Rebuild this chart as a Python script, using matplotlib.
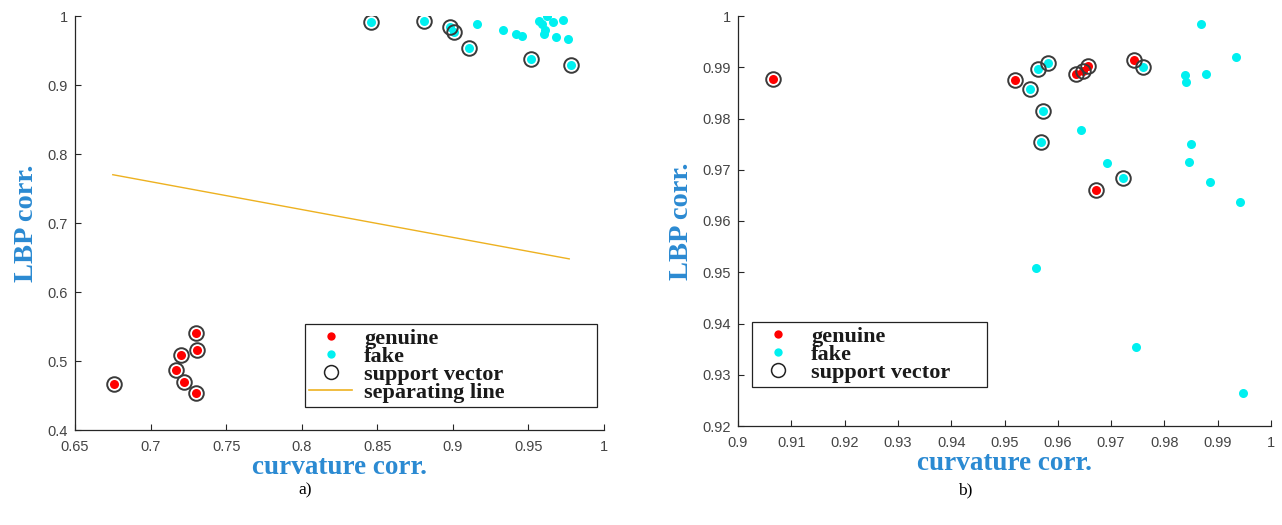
import matplotlib
matplotlib.use("Agg")
import matplotlib.pyplot as plt
from matplotlib.lines import Line2D
import numpy as np

# ---------------- data: panel a) ----------------
a_gen_x = [0.730, 0.731, 0.720, 0.717, 0.722, 0.730, 0.676]
a_gen_y = [0.541, 0.516, 0.508, 0.487, 0.469, 0.453, 0.467]
a_gen_sv = [1, 1, 1, 1, 1, 1, 1]

a_fake_x = [0.846, 0.881, 0.898, 0.901, 0.911, 0.952, 0.978,
            0.916, 0.933, 0.942, 0.946, 0.957, 0.959, 0.962, 0.966,
            0.973, 0.961, 0.960, 0.968, 0.976]
a_fake_y = [0.992, 0.993, 0.984, 0.977, 0.953, 0.938, 0.929,
            0.988, 0.980, 0.974, 0.971, 0.993, 0.989, 1.000, 0.991,
            0.994, 0.979, 0.974, 0.970, 0.966]
a_fake_sv = [1, 1, 1, 1, 1, 1, 1,
             0, 0, 0, 0, 0, 0, 0, 0, 0, 0, 0, 0, 0]

a_line_x = [0.675, 0.977]
a_line_y = [0.770, 0.648]

a_xticks = [0.65, 0.7, 0.75, 0.8, 0.85, 0.9, 0.95, 1.0]
a_xticklabels = ["0.65", "0.7", "0.75", "0.8", "0.85", "0.9", "0.95", "1"]
a_yticks = [0.4, 0.5, 0.6, 0.7, 0.8, 0.9, 1.0]
a_yticklabels = ["0.4", "0.5", "0.6", "0.7", "0.8", "0.9", "1"]

# ---------------- data: panel b) ----------------
b_gen_x = [0.9066, 0.9519, 0.9634, 0.9647, 0.9657, 0.9743, 0.9671]
b_gen_y = [0.9878, 0.9875, 0.9886, 0.9893, 0.9903, 0.9914, 0.9661]
b_gen_sv = [1, 1, 1, 1, 1, 1, 1]

b_fake_x = [0.9582, 0.9563, 0.9547, 0.9759, 0.9572, 0.9569, 0.9722,
            0.9869, 0.9935, 0.9839, 0.9841, 0.9878, 0.9644, 0.9849,
            0.9847, 0.9692, 0.9885, 0.9941, 0.9560, 0.9746, 0.9948]
b_fake_y = [0.9909, 0.9896, 0.9858, 0.9900, 0.9814, 0.9755, 0.9683,
            0.9985, 0.9920, 0.9884, 0.9871, 0.9887, 0.9777, 0.9751,
            0.9715, 0.9714, 0.9677, 0.9637, 0.9509, 0.9354, 0.9265]
b_fake_sv = [1, 1, 1, 1, 1, 1, 1,
             0, 0, 0, 0, 0, 0, 0, 0, 0, 0, 0, 0, 0, 0]

b_xticks = [0.9, 0.91, 0.92, 0.93, 0.94, 0.95, 0.96, 0.97, 0.98, 0.99, 1.0]
b_xticklabels = ["0.9", "0.91", "0.92", "0.93", "0.94", "0.95", "0.96",
                 "0.97", "0.98", "0.99", "1"]
b_yticks = [0.92, 0.93, 0.94, 0.95, 0.96, 0.97, 0.98, 0.99, 1.0]
b_yticklabels = ["0.92", "0.93", "0.94", "0.95", "0.96", "0.97", "0.98",
                 "0.99", "1"]

legend_labels = ["genuine", "fake", "support vector", "separating line"]
xlabel_text = "curvature corr."
ylabel_text = "LBP corr."
captions = ["a)", "b)"]

# ---------------- style ----------------
RED = "#ff0000"
CYAN = "#00f0f0"
SV_EDGE = "#3a3a3a"
LINE_C = "#edb120"
LABEL_C = "#2b8ad2"
TICK_C = "#444444"
SERIF = "Liberation Serif"
SANS = "Liberation Sans"

W, H = 1282, 525
fig = plt.figure(figsize=(W / 100, H / 100), dpi=100)


def px_axes(l, t, r, b):
    return fig.add_axes([l / W, 1 - b / H, (r - l) / W, (b - t) / H])


def style_axes(ax, xlim, ylim, xt, xtl, yt, ytl):
    ax.set_xlim(*xlim)
    ax.set_ylim(*ylim)
    ax.set_xticks(xt)
    ax.set_xticklabels(xtl)
    ax.set_yticks(yt)
    ax.set_yticklabels(ytl)
    for s in ["top", "right"]:
        ax.spines[s].set_visible(False)
    for s in ["bottom", "left"]:
        ax.spines[s].set_color("#262626")
        ax.spines[s].set_linewidth(0.9)
    ax.tick_params(direction="in", length=4, width=0.8, color="#262626",
                   labelcolor=TICK_C, labelsize=10.5)
    ax.tick_params(axis="x", pad=7)
    ax.tick_params(axis="y", pad=5)
    for lab in ax.get_xticklabels() + ax.get_yticklabels():
        lab.set_fontfamily(SANS)
    ax.set_xlabel(xlabel_text, fontfamily=SERIF, fontweight="bold",
                  fontsize=19.5, color=LABEL_C, labelpad=1)
    ax.set_ylabel(ylabel_text, fontfamily=SERIF, fontweight="bold",
                  fontsize=20.5, color=LABEL_C, labelpad=6)


def draw_points(ax, gx, gy, gsv, fx, fy, fsv):
    ax.plot(fx, fy, "o", color=CYAN, markersize=6.5, markeredgewidth=0,
            zorder=3)
    ax.plot(gx, gy, "o", color=RED, markersize=6.5, markeredgewidth=0,
            zorder=3)
    svx = [x for x, s in zip(gx, gsv) if s] + [x for x, s in zip(fx, fsv) if s]
    svy = [y for y, s in zip(gy, gsv) if s] + [y for y, s in zip(fy, fsv) if s]
    ax.plot(svx, svy, "o", markerfacecolor="none", markeredgecolor=SV_EDGE,
            markersize=10.5, markeredgewidth=1.4, zorder=4)


def make_legend(ax, with_line):
    handles = [
        Line2D([], [], ls="none", marker="o", color=RED, markersize=6,
               markeredgewidth=0),
        Line2D([], [], ls="none", marker="o", color=CYAN, markersize=6,
               markeredgewidth=0),
        Line2D([], [], ls="none", marker="o", markerfacecolor="none",
               markeredgecolor="#222222", markersize=10, markeredgewidth=1.1),
    ]
    labels = legend_labels[:3]
    if with_line:
        handles.append(Line2D([], [], color=LINE_C, lw=1.2))
        labels = legend_labels[:4]
    return handles, labels


def add_legend(ax, with_line, box_px, ax_px):
    l, t, r = box_px
    al, at, ar, ab = ax_px
    x0 = (l - al) / (ar - al)
    w = (r - l) / (ar - al)
    ytop = (ab - t) / (ab - at)
    h, lab = make_legend(ax, with_line)
    leg = ax.legend(h, lab, loc="upper left", mode="expand",
                    bbox_to_anchor=(x0, ytop - 0.3, w, 0.3),
                    prop={"family": SERIF, "weight": "bold", "size": 16},
                    frameon=True, fancybox=False, edgecolor="#222222",
                    framealpha=1, borderpad=0.2, labelspacing=-0.12,
                    handlelength=1.9, handletextpad=0.55, borderaxespad=0)
    leg.get_frame().set_linewidth(0.9)
    for t_ in leg.get_texts():
        t_.set_color("#1a1a1a")
    return leg


# ---------------- panel a) ----------------
A_PX = (75, 16, 604, 430)
ax1 = px_axes(*A_PX)
draw_points(ax1, a_gen_x, a_gen_y, a_gen_sv, a_fake_x, a_fake_y, a_fake_sv)
ax1.plot(a_line_x, a_line_y, color=LINE_C, lw=1.0, zorder=2)
style_axes(ax1, (0.65, 1.0), (0.4, 1.0), a_xticks, a_xticklabels,
           a_yticks, a_yticklabels)
add_legend(ax1, True, (305, 324, 597), A_PX)

# ---------------- panel b) ----------------
B_PX = (738, 16, 1271, 426)
ax2 = px_axes(*B_PX)
draw_points(ax2, b_gen_x, b_gen_y, b_gen_sv, b_fake_x, b_fake_y, b_fake_sv)
style_axes(ax2, (0.9, 1.0), (0.92, 1.0), b_xticks, b_xticklabels,
           b_yticks, b_yticklabels)
add_legend(ax2, False, (752, 322, 987), B_PX)

# captions
fig.text(305 / W, 1 - 490 / H, captions[0], ha="center", va="center",
         fontfamily=SERIF, fontsize=12.5, color="black")
fig.text(965 / W, 1 - 490 / H, captions[1], ha="center", va="center",
         fontfamily=SERIF, fontsize=12.5, color="black")

fig.savefig("out.png", dpi=100, facecolor="white")
